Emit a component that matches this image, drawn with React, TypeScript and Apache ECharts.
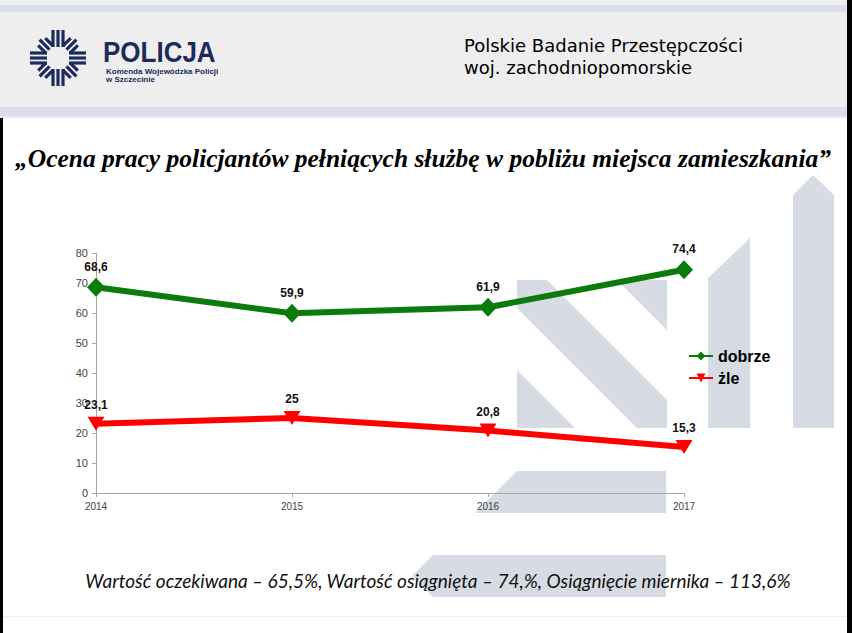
import React, { useEffect, useRef } from "react";
import * as echarts from "echarts";

const years = ["2014", "2015", "2016", "2017"];
const dobrze = [68.6, 59.9, 61.9, 74.4];
const zle = [23.1, 25, 20.8, 15.3];
const seriesNames = ["dobrze", "żle"];
const yMin = 0;
const yMax = 80;
const yStep = 10;

const headerLine1 = "Polskie Badanie Przestępczości";
const headerLine2 = "woj. zachodniopomorskie";
const titleText = "„Ocena pracy policjantów pełniących służbę w pobliżu miejsca zamieszkania”";
const footerText =
  "Wartość oczekiwana – 65,5%, Wartość osiągnięta – 74,%, Osiągnięcie miernika – 113,6%";

const NAVY = "#1c2b5c";
const SHAPE = "#d7dbe3";
const GREEN = "#0b7b0b";
const RED = "#ff0000";

function starArms() {
  const arms: any[] = [];
  for (let k = 0; k < 8; k++) {
    const diag = k % 2 === 1;
    const r1 = diag ? 12 : 11;
    const r2 = diag ? 26 : 28;
    const offs = [-5, 0, 5];
    arms.push({
      type: "group",
      rotation: (k * Math.PI) / 4,
      children: offs.map((o) => ({
        type: "line",
        shape: { x1: o, y1: -r1, x2: o, y2: -r2 + (diag ? Math.abs(o) * 0.6 : 0) },
        style: { stroke: NAVY, lineWidth: 3.2 },
      })),
    });
  }
  return arms;
}

function poly(points: number[][]) {
  return { type: "polygon", z: -10, shape: { points }, style: { fill: SHAPE } };
}

export default function App() {
  const ref = useRef<HTMLDivElement>(null);
  useEffect(() => {
    if (!ref.current) return;
    const chart = echarts.init(ref.current, undefined, { renderer: "svg" });
    const fmt = (p: any) => String(p.value).replace(".", ",");
    chart.setOption({
      animation: false,
      backgroundColor: "#ffffff",
      graphic: {
        elements: [
          // header band
          { type: "rect", z: -20, shape: { x: 0, y: 0, width: 852, height: 118 }, style: { fill: "#eeeeef" } },
          { type: "rect", z: -19, shape: { x: 0, y: 5, width: 852, height: 7 }, style: { fill: "#dadee6" } },
          { type: "rect", z: -19, shape: { x: 0, y: 107, width: 852, height: 9 }, style: { fill: "#dadee6" } },
          { type: "rect", z: -19, shape: { x: 0, y: 116, width: 852, height: 2 }, style: { fill: "#e8eaee" } },
          // borders
          { type: "rect", z: 50, shape: { x: 0, y: 118, width: 3, height: 515 }, style: { fill: "#000" } },
          { type: "rect", z: 50, shape: { x: 847, y: 0, width: 5, height: 633 }, style: { fill: "#000" } },
          { type: "rect", z: -19, shape: { x: 3, y: 616, width: 844, height: 1 }, style: { fill: "#f0f0f0" } },
          // logo
          { type: "group", x: 58, y: 58, children: starArms() },
          {
            type: "text",
            x: 103,
            y: 52,
            scaleY: 1.12,
            style: { text: "POLICJA", font: 'bold 26px "Liberation Sans"', fill: NAVY, textVerticalAlign: "middle" },
          },
          {
            type: "text",
            x: 106,
            y: 71,
            style: { text: "Komenda Wojewódzka Policji", font: 'bold 8px "Liberation Sans"', fill: NAVY, textVerticalAlign: "middle" },
          },
          {
            type: "text",
            x: 106,
            y: 79,
            style: { text: "w Szczecinie", font: 'bold 8px "Liberation Sans"', fill: NAVY, textVerticalAlign: "middle" },
          },
          // header text
          {
            type: "text",
            x: 464,
            y: 45,
            style: { text: headerLine1, font: '18px "DejaVu Sans"', fill: "#000", textVerticalAlign: "middle" },
          },
          {
            type: "text",
            x: 464,
            y: 67,
            style: { text: headerLine2, font: '18px "DejaVu Sans"', fill: "#000", textVerticalAlign: "middle" },
          },
          // title
          {
            type: "text",
            x: 423,
            y: 158,
            style: {
              text: titleText,
              font: 'italic bold 25.5px "Liberation Serif"',
              fill: "#000",
              textAlign: "center",
              textVerticalAlign: "middle",
            },
          },
          // background shapes
          poly([[793, 195], [813, 175], [834, 195], [834, 428], [793, 428]]),
          poly([[708, 278], [750, 238], [750, 428], [708, 428]]),
          poly([[517, 280], [547, 280], [667, 400], [667, 428], [637, 428], [517, 308]]),
          poly([[617, 280], [667, 280], [667, 330]]),
          poly([[517, 370], [575, 428], [517, 428]]),
          poly([[517, 471], [666, 471], [666, 513], [475, 513]]),
          poly([[433, 555], [666, 555], [666, 597], [433, 597], [412, 576]]),
          // footer text
          {
            type: "text",
            x: 438,
            y: 580,
            z: 20,
            style: {
              text: footerText,
              font: 'italic 19px "Lato"',
              fill: "#111",
              textAlign: "center",
              textVerticalAlign: "middle",
            },
          },
        ],
      },
      grid: { left: 96, right: 168, top: 253, bottom: 140, containLabel: false },
      legend: {
        orient: "vertical",
        left: 683,
        top: 343,
        itemWidth: 24,
        itemHeight: 11,
        itemGap: 6,
        lineStyle: { width: 2 },
        textStyle: { fontSize: 16, fontWeight: "bold", color: "#000", fontFamily: '"Liberation Sans", Arial' },
        data: seriesNames,
      },
      xAxis: {
        type: "category",
        data: years,
        boundaryGap: false,
        axisLine: { lineStyle: { color: "#a8a8a8" } },
        axisTick: { show: true, length: 4, lineStyle: { color: "#a8a8a8" } },
        axisLabel: { color: "#444", fontSize: 10, fontFamily: '"Liberation Sans", Arial', margin: 8 },
      },
      yAxis: {
        type: "value",
        min: yMin,
        max: yMax,
        interval: yStep,
        axisLine: { show: true, lineStyle: { color: "#a8a8a8" } },
        axisTick: { show: true, length: 4, lineStyle: { color: "#a8a8a8" } },
        splitLine: { show: false },
        axisLabel: { color: "#444", fontSize: 11, fontFamily: '"Liberation Sans", Arial', margin: 8 },
      },
      series: [
        {
          name: seriesNames[0],
          type: "line",
          data: dobrze,
          symbol: "diamond",
          symbolSize: [18, 19],
          z: 5,
          itemStyle: { color: GREEN },
          lineStyle: { width: 6, color: GREEN },
          label: {
            show: true,
            position: "top",
            distance: 5,
            formatter: fmt,
            fontWeight: "bold",
            fontSize: 12,
            color: "#111",
            fontFamily: '"Liberation Sans", Arial',
          },
        },
        {
          name: seriesNames[1],
          type: "line",
          data: zle,
          symbol: "triangle",
          symbolRotate: 180,
          symbolSize: [17, 14],
          z: 5,
          itemStyle: { color: RED },
          lineStyle: { width: 6, color: RED },
          label: {
            show: true,
            position: "top",
            distance: 6,
            formatter: fmt,
            fontWeight: "bold",
            fontSize: 12,
            color: "#111",
            fontFamily: '"Liberation Sans", Arial',
          },
        },
      ],
    });
    return () => chart.dispose();
  }, []);
  return (
    <div
      ref={ref}
      style={{ position: "absolute", left: 0, top: 0, width: 852, height: 633, background: "#fff" }}
    />
  );
}
